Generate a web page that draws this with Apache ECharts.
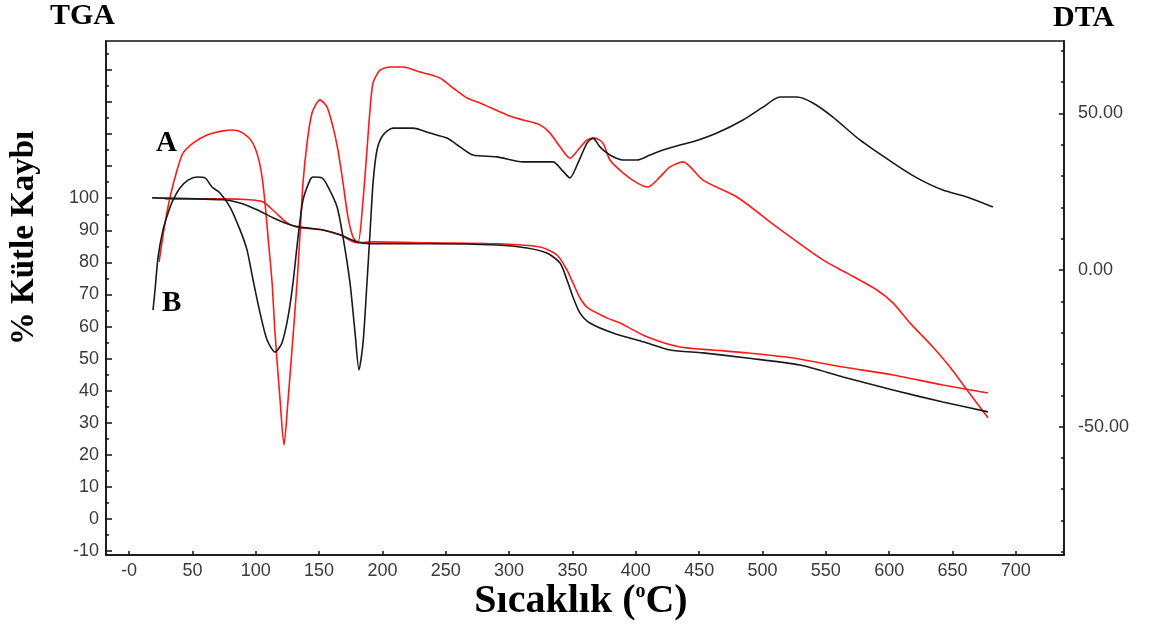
<!DOCTYPE html>
<html>
<head>
<meta charset="utf-8">
<script src="https://cdn.jsdelivr.net/npm/echarts@6/dist/echarts.min.js"></script>
<style>
html,body{margin:0;padding:0;background:#fff;}
#chart{width:1155px;height:630px;}
</style>
</head>
<body>
<div id="chart"></div>
<script>
// ---- Data (temperature in °C) ----
const dtaA_T = [23.7,28.4,32.4,37.9,42.6,50.5,61.6,74.2,82.1,90.0,97.1,101.8,105.0,107.3,109.7,112.9,115.2,119.2,122.3,125.5,128.6,132.6,135.0,137.3,140.5,144.4,150.7,156.3,161.0,164.9,168.9,172.8,176.8,180.7,184.7,187.8,190.2,192.6,198.1,206.0,216.2,229.7,245.4,255.7,266.8,277.0,298.3,311.0,324.4,332.3,340.2,348.0,354.4,361.5,367.8,374.1,379.6,389.9,400.9,409.6,419.1,427.0,437.2,453.0,479.8,511.4,547.7,566.7,590.3,603.0,616.4,634.5,648.0,661.4,678.0];
const dtaA_V = [2.6,15.0,23.3,31.9,37.3,40.5,43.1,44.4,44.7,43.7,40.9,36.1,29.7,21.4,10.5,-4.1,-20.1,-41.5,-55.9,-41.5,-25.5,-4.1,11.8,27.8,40.5,50.1,54.3,52.0,45.6,38.3,27.8,16.9,10.5,8.6,22.3,38.3,51.1,59.7,63.8,64.8,64.8,63.2,61.3,58.1,54.9,53.3,49.5,47.9,46.3,43.7,39.3,35.7,38.3,41.5,42.1,40.5,35.1,31.0,27.8,26.5,29.7,32.9,34.5,28.7,23.3,13.7,3.2,-1.0,-6.4,-10.5,-16.9,-24.6,-31.0,-38.3,-47.2];

const dtaB_T = [18.9,20.5,22.9,26.8,30.8,34.7,40.2,46.6,53.7,60.0,65.5,71.8,79.7,87.6,93.1,97.9,103.4,108.9,115.2,120.7,125.5,129.4,133.4,137.3,142.8,145.2,152.3,157.1,164.2,168.9,174.4,178.4,181.5,184.7,187.8,190.2,192.6,195.7,200.5,208.4,224.1,237.5,251.0,261.2,271.5,290.4,311.0,334.6,341.7,348.0,354.4,361.5,366.2,371.7,379.6,389.9,400.9,411.2,421.4,434.8,445.1,464.0,484.6,500.4,513.8,527.2,539.8,555.6,576.9,603.0,621.9,642.4,661.4,681.9];
const dtaB_V = [-12.8,-6.4,4.1,12.8,18.2,22.3,26.2,28.7,29.7,29.4,26.5,24.6,20.1,12.8,6.4,-3.2,-13.7,-22.3,-26.2,-23.3,-15.0,-4.1,10.5,22.3,28.7,29.7,29.4,26.5,20.1,10.5,-4.1,-20.1,-31.9,-23.3,-4.1,11.8,27.8,38.3,43.1,45.3,45.3,43.7,42.1,39.3,36.7,36.1,34.5,34.5,31.9,29.4,34.2,40.5,42.1,39.3,36.7,35.1,35.1,36.7,38.3,39.9,40.9,43.7,47.9,52.0,55.2,55.2,53.3,48.8,41.5,34.2,29.4,25.5,23.3,20.1];

const tgaA_T = [28.4,74.2,95.5,105.8,115.2,124.7,132.6,153.1,166.5,179.9,192.6,237.5,290.4,324.4,337.8,345.7,350.4,356.0,362.2,377.2,387.5,408.8,434.8,460.9,487.7,524.0,563.5,603.0,642.4,678.0];
const tgaA_V = [99.8,99.8,99.5,98.8,95.7,92.3,91.0,90.1,88.6,86.1,86.4,86.1,85.8,84.8,82.3,77.6,73.6,68.9,65.8,62.7,61.1,56.8,53.6,52.7,51.8,50.2,47.4,44.9,41.8,39.3];

const tgaB_T = [18.2,74.2,87.6,101.0,113.6,127.1,135.0,153.1,166.5,179.9,190.2,237.5,290.4,314.1,329.9,340.2,345.7,350.4,356.0,363.8,382.0,408.8,427.0,453.0,487.7,529.6,563.5,603.0,642.4,678.0];
const tgaB_V = [100.1,99.5,98.5,96.4,93.9,91.7,91.0,90.1,88.6,86.4,85.8,85.8,85.4,84.5,82.9,79.8,74.5,69.2,64.2,61.1,58.0,54.9,52.7,51.8,50.2,48.0,44.3,40.2,36.5,33.4];

// ---- Ticks / labels ----
const xTicks = [0,50,100,150,200,250,300,350,400,450,500,550,600,650,700];
const tgaMajorTicks = [-10,0,10,20,30,40,50,60,70,80,90,100,110,120,130,140];
const tgaMinorTicks = [-5,5,15,25,35,45,55,65,75,85,95,105,115,125,135,145];
const tgaLabels = [-10,0,10,20,30,40,50,60,70,80,90,100];
const dtaMajorTicks = [-50,0,50];
const dtaMinorTicks = [-90,-80,-70,-60,-40,-30,-20,-10,10,20,30,40,60,70];

const zip = (a, b) => a.map((v, i) => [v, b[i]]);

const labelColor = '#3a3a3a';
const axisCol = '#111';
const lblFont = 'Liberation Sans, Arial, sans-serif';
const serif = '"Liberation Serif", "Times New Roman", serif';

const chart = echarts.init(document.getElementById('chart'), null, {renderer: 'canvas'});

function yAx(opts) {
  return Object.assign({
    type: 'value',
    splitLine: {show: false},
    axisLine: {show: true, onZero: false, lineStyle: {color: axisCol, width: 1.5}},
  }, opts);
}

chart.setOption({
  animation: false,
  backgroundColor: '#fff',
  grid: {left: 106, right: 91, top: 41, bottom: 75, show: true, borderColor: axisCol, borderWidth: 1.5, backgroundColor: 'transparent'},
  xAxis: {
    type: 'value', min: -18.2, max: 738,
    splitLine: {show: false},
    axisLine: {show: true, onZero: false, lineStyle: {color: axisCol, width: 1.5}},
    axisTick: {show: true, inside: true, length: 4, customValues: xTicks, lineStyle: {color: axisCol, width: 1.5}},
    axisLabel: {show: true, customValues: xTicks, margin: 7, color: labelColor, fontSize: 18, fontFamily: lblFont,
      formatter: v => (v === 0 ? '-0' : String(v))}
  },
  yAxis: [
    yAx({position: 'left', min: -11.2, max: 149,
      axisTick: {show: true, inside: true, length: 6, customValues: tgaMajorTicks, lineStyle: {color: axisCol, width: 1.5}},
      axisLabel: {show: true, customValues: tgaLabels, margin: 7, color: labelColor, fontSize: 18, fontFamily: lblFont}
    }),
    yAx({position: 'right', min: -91, max: 73.1,
      axisTick: {show: true, inside: true, length: 5, customValues: dtaMajorTicks, lineStyle: {color: axisCol, width: 1.5}},
      axisLabel: {show: true, customValues: dtaMajorTicks, margin: 14, color: labelColor, fontSize: 18, fontFamily: lblFont,
        formatter: v => v.toFixed(2)}
    }),
    yAx({position: 'left', min: -11.2, max: 149, axisLine: {show: false, onZero: false},
      axisTick: {show: true, inside: true, length: 3, customValues: tgaMinorTicks, lineStyle: {color: axisCol, width: 1.5}},
      axisLabel: {show: false}
    }),
    yAx({position: 'right', min: -91, max: 73.1, axisLine: {show: false, onZero: false},
      axisTick: {show: true, inside: true, length: 3, customValues: dtaMinorTicks, lineStyle: {color: axisCol, width: 1.5}},
      axisLabel: {show: false}
    })
  ],
  series: [
    {name: 'TGA A', type: 'line', yAxisIndex: 0, data: zip(tgaA_T, tgaA_V), showSymbol: false, smooth: 0.25,
      lineStyle: {color: '#ff1a1a', width: 1.6}, z: 3},
    {name: 'TGA B', type: 'line', yAxisIndex: 0, data: zip(tgaB_T, tgaB_V), showSymbol: false, smooth: 0.25,
      lineStyle: {color: '#1a1a1a', width: 1.6}, z: 4},
    {name: 'DTA A', type: 'line', yAxisIndex: 1, data: zip(dtaA_T, dtaA_V), showSymbol: false, smooth: 0.25,
      lineStyle: {color: '#ff1a1a', width: 1.6}, z: 3},
    {name: 'DTA B', type: 'line', yAxisIndex: 1, data: zip(dtaB_T, dtaB_V), showSymbol: false, smooth: 0.25,
      lineStyle: {color: '#1a1a1a', width: 1.6}, z: 4}
  ],
  graphic: [
    {type: 'text', left: 50, top: 1, style: {text: 'TGA', font: 'bold 30px ' + serif, fill: '#000'}},
    {type: 'text', left: 1053, top: 3, style: {text: 'DTA', font: 'bold 30px ' + serif, fill: '#000'}},
    {type: 'text', left: 156, top: 129, style: {text: 'A', font: 'bold 29px ' + serif, fill: '#000'}},
    {type: 'text', left: 162, top: 289, style: {text: 'B', font: 'bold 29px ' + serif, fill: '#000'}},
    {type: 'text', x: 24, y: 238, rotation: Math.PI / 2,
      style: {text: '% Kütle Kaybı', font: 'bold 33px ' + serif, fill: '#000', align: 'center', verticalAlign: 'middle'}},
    {type: 'text', x: 581, y: 602,
      style: {text: '{a|Sıcaklık (}{b|o}{a|C)}', align: 'center', verticalAlign: 'middle', fill: '#000',
        rich: {
          a: {font: 'bold 40px ' + serif, fill: '#000'},
          b: {font: 'bold 20px ' + serif, fill: '#000', verticalAlign: 'top', padding: [0,0,16,0]}
        }}}
  ]
});
</script>
</body>
</html>
